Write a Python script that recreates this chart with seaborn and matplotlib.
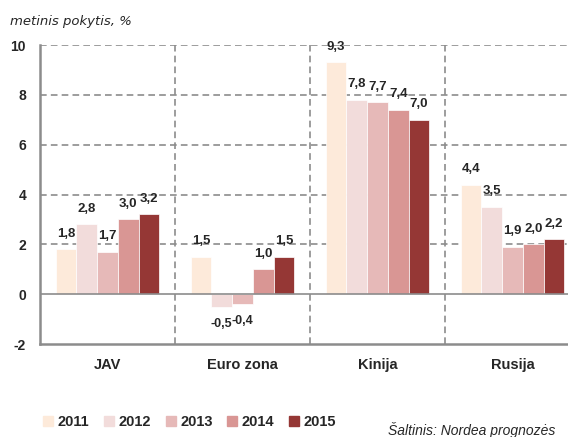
import matplotlib
matplotlib.use("Agg")
import matplotlib.pyplot as plt
import seaborn as sns
import pandas as pd

salys = ["JAV", "Euro zona", "Kinija", "Rusija"]
metai = ["2011", "2012", "2013", "2014", "2015"]
reiksmes = {
    "2011": [1.8, 1.5, 9.3, 4.4],
    "2012": [2.8, -0.5, 7.8, 3.5],
    "2013": [1.7, -0.4, 7.7, 1.9],
    "2014": [3.0, 1.0, 7.4, 2.0],
    "2015": [3.2, 1.5, 7.0, 2.2],
}
spalvos = ["#FDEADA", "#F2DCDB", "#E6B9B8", "#D99694", "#953735"]
y_ticks = [-2, 0, 2, 4, 6, 8, 10]

rows = []
for m in metai:
    for s, v in zip(salys, reiksmes[m]):
        rows.append({"Šalis": s, "Metai": m, "Pokytis": v})
df = pd.DataFrame(rows)

sns.set_theme(style="white")
plt.rcParams["font.family"] = ["Liberation Sans Narrow", "Liberation Sans", "DejaVu Sans"]

fig = plt.figure(figsize=(5.68, 4.37), dpi=100)
ax = fig.add_axes([40 / 568, 1 - 344 / 437, 540 / 568, 299 / 437])

sns.barplot(data=df, x="Šalis", y="Pokytis", hue="Metai", order=salys,
            hue_order=metai, palette=spalvos, width=0.77, gap=0,
            edgecolor="white", linewidth=0.5, saturation=1, ax=ax)

ax.set_ylim(-2, 10)
ax.set_xlim(-0.5, 3.5)
ax.set_yticks(y_ticks)
ax.set_yticklabels([str(t) for t in y_ticks], fontsize=10, fontweight="bold")
ax.tick_params(axis="y", length=0, pad=10)
ax.tick_params(axis="x", length=0, pad=10)
for lbl in ax.get_xticklabels():
    lbl.set_fontsize(10.5)
    lbl.set_fontweight("bold")
ax.set_xlabel("")
ax.set_ylabel("")

# tinklelis
for t in [2, 4, 6, 8, 10]:
    ax.axhline(t, color="#8c8c8c", linestyle=(0, (4, 2.5)), linewidth=1.2, zorder=0)
for x in [0.5, 1.5, 2.5]:
    ax.axvline(x, color="#8c8c8c", linestyle=(0, (4, 2.5)), linewidth=1.2, zorder=0)
ax.axhline(0, color="#8c8c8c", linewidth=1.2, zorder=3)

for side in ["top", "right"]:
    ax.spines[side].set_visible(False)
for side in ["left", "bottom"]:
    ax.spines[side].set_color("#8c8c8c")
    ax.spines[side].set_linewidth(1.8)

# reikšmių etiketės
for container in ax.containers:
    for bar in container:
        v = bar.get_height()
        xc = bar.get_x() + bar.get_width() / 2
        txt = f"{v:.1f}".replace(".", ",")
        if v >= 0:
            ax.annotate(txt, (xc, v), xytext=(0, 7), textcoords="offset points",
                        ha="center", va="bottom", fontsize=9.5, fontweight="bold",
                        annotation_clip=False)
        else:
            ax.annotate(txt, (xc, v), xytext=(0, -8), textcoords="offset points",
                        ha="center", va="top", fontsize=9, fontweight="bold",
                        annotation_clip=False)

ax.legend_.remove()
handles = [plt.Rectangle((0, 0), 1, 1, color=c) for c in spalvos]
fig.legend(handles, metai, loc="center left", bbox_to_anchor=(30 / 568, 1 - 422 / 437),
           ncol=5, frameon=False, handlelength=0.7, handleheight=0.7,
           handletextpad=0.3, columnspacing=1.0,
           prop={"weight": "bold", "size": 10.5})

fig.text(10 / 568, 1 - 22 / 437, "metinis pokytis, %", fontsize=9.5, style="italic",
         ha="left", va="center", family=["Liberation Sans Narrow", "DejaVu Sans"])
fig.text(388 / 568, 1 - 430 / 437, "Šaltinis: Nordea prognozės", fontsize=10,
         style="italic", ha="left", va="center", family=["Liberation Sans", "DejaVu Sans"])

fig.savefig("out.png", dpi=100)
